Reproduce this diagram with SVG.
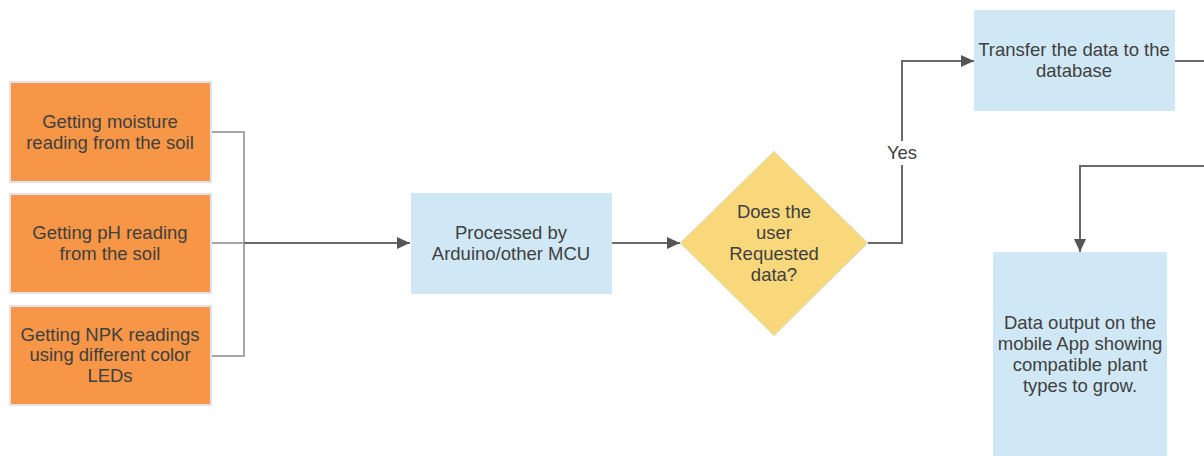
<svg xmlns="http://www.w3.org/2000/svg" width="1204" height="456" viewBox="0 0 1204 456">
<defs>
<style>
.orange{fill:#f79646;stroke:#e0e4e8;stroke-width:2}
.blue{fill:#d0e8f6;stroke:none}
.dia{fill:#f9d87c;stroke:#d0e8f0;stroke-width:1}
text{font-family:"Liberation Sans",Arial,sans-serif;font-size:18.5px;fill:#404040;text-anchor:middle}
.lt{fill:none;stroke:#a6a6a6;stroke-width:2}
.dk{fill:none;stroke:#6a6a6a;stroke-width:2}
</style>
<marker id="arr" markerWidth="14" markerHeight="12" refX="13" refY="6" orient="auto" markerUnits="userSpaceOnUse">
<path d="M0,0 L13,6 L0,12 Z" fill="#555"/>
</marker>
</defs>
<rect width="1204" height="456" fill="#fff"/>
<g id="connectors">
<polyline class="lt" points="211,132 244,132 244,356 211,356"/>
<line class="lt" x1="211" y1="243" x2="244" y2="243"/>
<line class="dk" x1="244" y1="243" x2="410" y2="243" marker-end="url(#arr)"/>
<line class="dk" x1="612" y1="243" x2="680" y2="243" marker-end="url(#arr)"/>
<polyline class="dk" points="868,243 902,243 902,61 974,61" marker-end="url(#arr)"/>
<rect x="884" y="141" width="36" height="24" fill="#fff"/>
<text x="902" y="159">Yes</text>
<line class="dk" x1="1175" y1="61" x2="1204" y2="61"/>
<polyline class="dk" points="1204,166 1080,166 1080,252" marker-end="url(#arr)"/>
</g>
<g id="n1">
<rect class="orange" x="10" y="82" width="201" height="100"/>
<text x="110" y="128">Getting moisture</text>
<text x="110" y="149">reading from the soil</text>
</g>
<g id="n2">
<rect class="orange" x="10" y="194" width="201" height="99"/>
<text x="110" y="239">Getting pH reading</text>
<text x="110" y="260">from the soil</text>
</g>
<g id="n3">
<rect class="orange" x="10" y="306" width="201" height="99"/>
<text x="110" y="341">Getting NPK readings</text>
<text x="110" y="361">using different color</text>
<text x="110" y="382">LEDs</text>
</g>
<g id="n4">
<rect class="blue" x="411" y="193" width="201" height="101"/>
<text x="511" y="239">Processed by</text>
<text x="511" y="260">Arduino/other MCU</text>
</g>
<g id="n5">
<polygon class="dia" points="774,151 868,243 774,336 680,243"/>
<text x="774" y="218">Does the</text>
<text x="774" y="239">user</text>
<text x="774" y="260">Requested</text>
<text x="774" y="281">data?</text>
</g>
<g id="n6">
<rect class="blue" x="974" y="10" width="201" height="101"/>
<text x="1074" y="56">Transfer the data to the</text>
<text x="1074" y="77">database</text>
</g>
<g id="n7">
<rect class="blue" x="993" y="252" width="174" height="210"/>
<text x="1080" y="329">Data output on the</text>
<text x="1080" y="350">mobile App showing</text>
<text x="1080" y="371">compatible plant</text>
<text x="1080" y="392">types to grow.</text>
</g>
</svg>
